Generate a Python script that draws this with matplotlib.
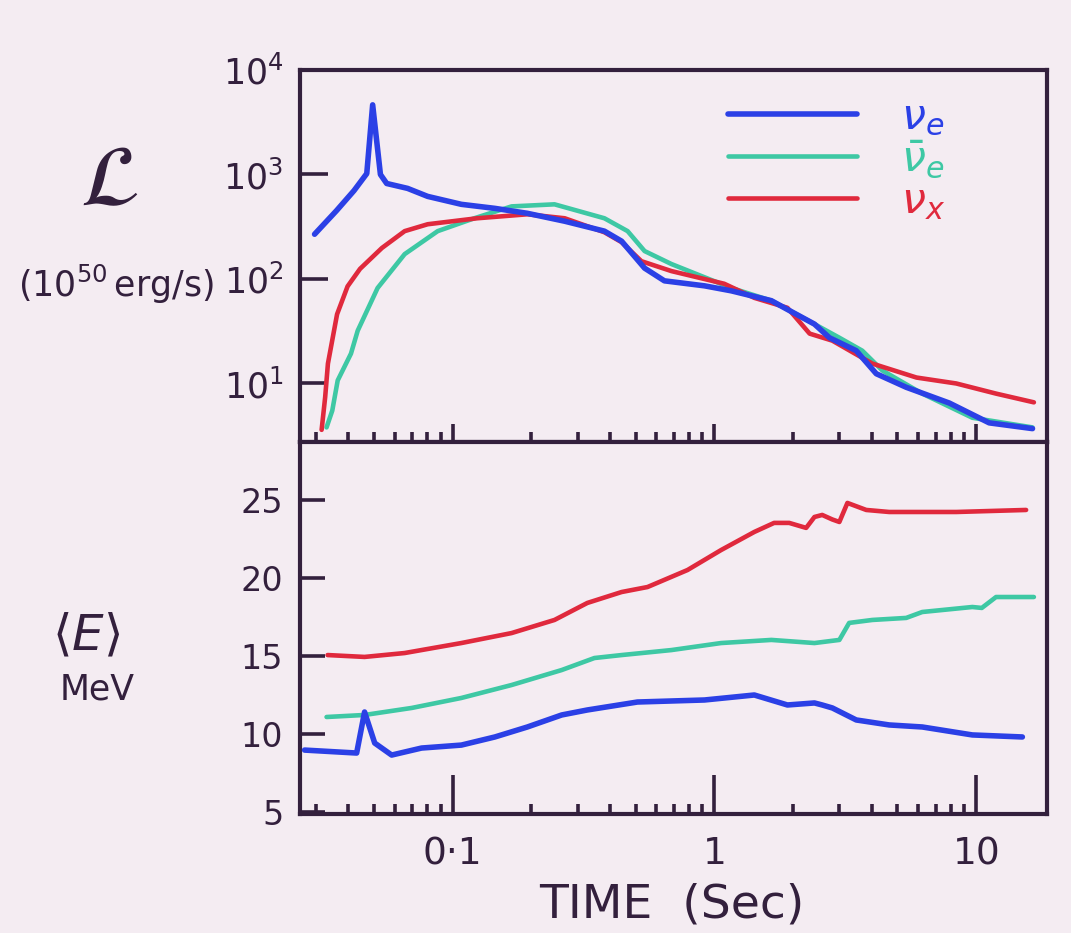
import matplotlib
matplotlib.use('Agg')
import matplotlib.pyplot as plt
from matplotlib.ticker import LogLocator, NullFormatter, NullLocator

#  colours 
BG = '#f4ecf2'
INK = '#33203d'
C_NUE = '#2b40e6'
C_NUEBAR = '#3ec8a4'
C_NUX = '#e0293d'

# luminosity, 10^50 erg/s, against time in s
t_L_nue = [0.0297, 0.036, 0.042, 0.047, 0.0495, 0.053, 0.056, 0.0673, 0.0803,
           0.108, 0.145, 0.193, 0.268, 0.38, 0.442, 0.541, 0.644, 0.916, 1.16,
           1.65, 1.93, 2.41, 2.75, 3.48, 4.15, 5.40, 7.89, 11.2, 16.4]
L_nue = [268, 450, 700, 1020, 4640, 1000, 820, 736, 617,
         518, 474, 425, 357, 287, 230, 127, 96, 86, 77,
         62, 50, 37, 27.4, 20.6, 12.4, 9.2, 6.5, 4.2, 3.7]

t_L_nuebar = [0.033, 0.0347, 0.0364, 0.0409, 0.0434, 0.0517, 0.0656, 0.0877,
              0.121, 0.168, 0.245, 0.38, 0.466, 0.541, 0.685, 1.16, 1.65,
              2.41, 3.0, 3.67, 4.38, 6.22, 9.66, 16.4]
L_nuebar = [3.8, 5.5, 10.7, 19.3, 32, 82, 173, 287,
            381, 495, 518, 381, 287, 185, 139, 82, 62,
            37, 27.4, 20.6, 13.3, 8.0, 4.7, 3.8]

t_L_nux = [0.0316, 0.0326, 0.0334, 0.0362, 0.0397, 0.0443, 0.0537, 0.0656,
           0.0803, 0.124, 0.193, 0.268, 0.38, 0.442, 0.526, 0.685, 1.09, 1.42,
           1.90, 2.31, 2.82, 4.01, 5.91, 8.39, 11.9, 16.6]
L_nux = [3.6, 7.4, 15.5, 46, 85, 125, 198, 287,
         334, 381, 416, 381, 280, 225, 148, 119, 90, 66,
         53, 30, 25.7, 15.5, 11.4, 10.0, 8.0, 6.6]

# mean energy, MeV, against time in s
t_E_nue = [0.0272, 0.043, 0.0461, 0.0504, 0.0585, 0.0761, 0.108, 0.145, 0.193,
           0.261, 0.327, 0.508, 0.916, 1.42, 1.90, 2.41, 2.58, 2.82, 3.48,
           4.65, 6.22, 9.66, 15.0]
E_nue = [8.97, 8.78, 11.41, 9.42, 8.65, 9.10, 9.29, 9.81, 10.45,
         11.22, 11.54, 12.05, 12.18, 12.50, 11.86, 11.99, 11.86, 11.67, 10.90,
         10.58, 10.45, 9.94, 9.81]

t_E_nuebar = [0.033, 0.0461, 0.0698, 0.108, 0.168, 0.261, 0.348, 0.442, 0.685,
              1.06, 1.65, 2.41, 3.0, 3.27, 4.01, 5.40, 6.22, 9.66, 10.5, 11.9,
              16.6]
E_nuebar = [11.09, 11.22, 11.67, 12.31, 13.14, 14.10, 14.87, 15.06, 15.38,
            15.83, 16.03, 15.83, 16.03, 17.12, 17.31, 17.44, 17.82, 18.14, 18.08,
            18.78, 18.78]

t_E_nux = [0.0333, 0.0461, 0.0656, 0.108, 0.168, 0.245, 0.327, 0.442, 0.555,
           0.789, 1.06, 1.42, 1.69, 1.93, 2.24, 2.41, 2.58, 2.82, 3.0, 3.22,
           3.80, 4.65, 8.39, 15.5]
E_nux = [15.06, 14.94, 15.19, 15.83, 16.47, 17.31, 18.40, 19.10, 19.42,
         20.51, 21.79, 22.95, 23.53, 23.53, 23.21, 23.91, 24.04, 23.75, 23.59, 24.81,
         24.36, 24.23, 24.23, 24.36]

L_ticks = [10, 100, 1000, 10000]
L_ticklabels = [r'$10^{1}$', r'$10^{2}$', r'$10^{3}$', r'$10^{4}$']
E_ticks = [5, 10, 15, 20, 25]
E_ticklabels = ['5', '10', '15', '20', '25']
t_ticks = [0.1, 1, 10]
t_ticklabels = ['0·1', '1', '10']
legend_labels = [r'$\nu_e$', r'$\bar{\nu}_e$', r'$\nu_x$']

fig = plt.figure(figsize=(10.71, 9.33), dpi=100, facecolor=BG)
ax1 = fig.add_axes([0.280, 0.526, 0.698, 0.399], facecolor=BG)
ax2 = fig.add_axes([0.280, 0.1275, 0.698, 0.3985], facecolor=BG)

LW_E = 4.0   # nu_e drawn with a thicker pen
LW = 3.3

# top panel: luminosity
l1, = ax1.plot(t_L_nue, L_nue, color=C_NUE, lw=LW_E, solid_capstyle='round',
               solid_joinstyle='round', zorder=4)
l2, = ax1.plot(t_L_nuebar, L_nuebar, color=C_NUEBAR, lw=LW, solid_capstyle='round',
               solid_joinstyle='round', zorder=3)
l3, = ax1.plot(t_L_nux, L_nux, color=C_NUX, lw=LW, solid_capstyle='round',
               solid_joinstyle='round', zorder=3)
ax1.set_xscale('log')
ax1.set_yscale('log')
ax1.set_xlim(0.0261, 18.7)
ax1.set_ylim(2.74, 9600)

# bottom panel: mean energy
ax2.plot(t_E_nue, E_nue, color=C_NUE, lw=LW_E, solid_capstyle='round',
         solid_joinstyle='round', zorder=4)
ax2.plot(t_E_nuebar, E_nuebar, color=C_NUEBAR, lw=LW, solid_capstyle='round',
         solid_joinstyle='round', zorder=3)
ax2.plot(t_E_nux, E_nux, color=C_NUX, lw=LW, solid_capstyle='round',
         solid_joinstyle='round', zorder=3)
ax2.set_xscale('log')
ax2.set_xlim(0.0261, 18.7)
ax2.set_ylim(4.87, 28.7)

for ax in (ax1, ax2):
    for s in ax.spines.values():
        s.set_linewidth(3)
        s.set_color(INK)
    ax.xaxis.set_minor_locator(LogLocator(base=10, subs=range(2, 10), numticks=20))
    ax.xaxis.set_minor_formatter(NullFormatter())
    ax.set_xticks(t_ticks)

ax1.set_yticks(L_ticks)
ax1.set_yticklabels(L_ticklabels)
ax1.yaxis.set_minor_locator(NullLocator())
ax1.tick_params(axis='y', direction='in', length=20, width=2.6, color=INK,
                labelsize=25, labelcolor=INK, pad=12)
ax1.tick_params(axis='x', which='major', direction='inout', length=26, width=2.6,
                color=INK, labelbottom=False)
ax1.tick_params(axis='x', which='minor', direction='inout', length=15, width=2.6,
                color=INK)

ax2.set_yticks(E_ticks)
ax2.set_yticklabels(E_ticklabels)
ax2.tick_params(axis='y', direction='in', length=18, width=2.6, color=INK,
                labelsize=24, labelcolor=INK, pad=12)
ax2.set_xticklabels(t_ticklabels)
ax2.tick_params(axis='x', which='major', direction='in', length=28, width=2.6,
                color=INK, labelsize=27, labelcolor=INK, pad=16)
ax2.tick_params(axis='x', which='minor', direction='in', length=7, width=2.6,
                color=INK)

# legend
ax1.legend([l1, l2, l3], legend_labels, loc='upper left',
           bbox_to_anchor=(0.680, 0.897), bbox_transform=fig.transFigure,
           frameon=False, fontsize=31, labelcolor='linecolor', handlelength=3.0,
           handletextpad=1.0, labelspacing=0.0, borderpad=0, borderaxespad=0)

# axis titles
fig.text(0.102, 0.805, r'$\mathcal{L}$', fontsize=62, color=INK, ha='center', va='center')
fig.text(0.108, 0.695, r'$(10^{50}\,$erg/s$)$', fontsize=25, color=INK,
         ha='center', va='center')
fig.text(0.080, 0.318, r'$\langle E\rangle$', fontsize=36, color=INK,
         ha='center', va='center')
fig.text(0.091, 0.261, 'MeV', fontsize=25, color=INK, ha='center', va='center')
fig.text(0.627, 0.030, 'TIME  (Sec)', fontsize=34, color=INK, ha='center', va='center')

fig.savefig('out.png', dpi=100, facecolor=BG)
